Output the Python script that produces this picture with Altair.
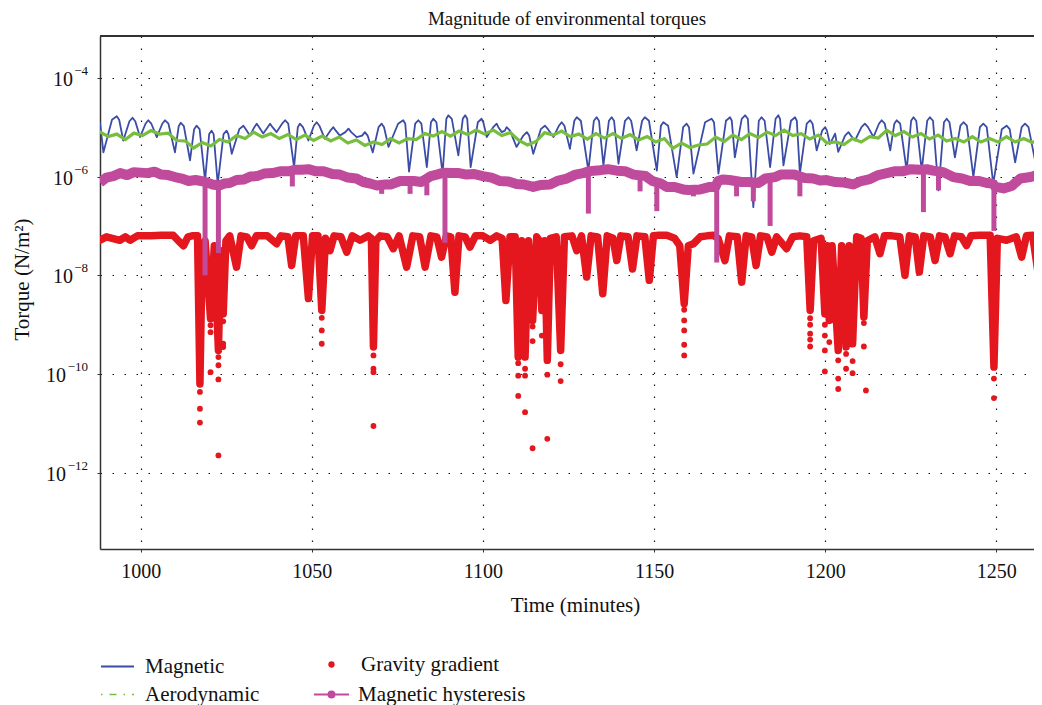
import altair as alt
import pandas as pd

# ---------------- data (log10 of torque) ----------------
series_names = ["Magnetic", "Aerodynamic", "Gravity gradient", "Magnetic hysteresis"]
x_ticks = [1000, 1050, 1100, 1150, 1200, 1250]
y_ticks = [1e-12, 1e-10, 1e-8, 1e-6, 1e-4]
y_tick_base = "10"
y_tick_exp = ["−12", "−10", "−8", "−6", "−4"]

# magnetic torque: troughs, arch shoulders and arch tops
mag_t = [988.1, 989.1, 991.6, 993.0, 993.7, 994.9, 996.7, 997.6, 998.4, 999.8,
         1001.4, 1002.2, 1003.1, 1004.7, 1006.3, 1007.1, 1008.1, 1010.0, 1011.1, 1011.7,
         1012.6, 1014.4, 1015.6, 1016.3, 1017.2, 1018.8, 1020.0, 1020.7, 1021.3, 1022.5,
         1024.2, 1025.1, 1025.6, 1026.6, 1028.8, 1030.0, 1030.7, 1031.9, 1033.2, 1033.9,
         1034.6, 1035.8, 1037.1, 1037.8, 1038.5, 1039.7, 1041.3, 1042.2, 1043.1, 1044.8,
         1045.9, 1046.5, 1047.4, 1049.0, 1050.6, 1051.4, 1052.2, 1053.8, 1055.4, 1056.3,
         1057.0, 1058.2, 1059.8, 1060.7, 1061.5, 1063.1, 1064.7, 1065.5, 1066.3, 1067.8,
         1069.5, 1070.4, 1071.1, 1072.4, 1075.2, 1076.7, 1077.3, 1078.4, 1080.2, 1081.1,
         1082.0, 1083.6, 1084.8, 1085.5, 1086.4, 1088.2, 1089.3, 1089.9, 1090.9, 1092.8,
         1094.1, 1094.8, 1095.4, 1096.4, 1098.5, 1099.6, 1100.1, 1101.1, 1103.0, 1104.0,
         1104.5, 1105.5, 1106.4, 1106.9, 1107.9, 1109.8, 1111.8, 1112.8, 1113.5, 1114.7,
         1116.9, 1118.1, 1119.0, 1120.6, 1122.2, 1123.0, 1123.8, 1125.4, 1126.7, 1127.4,
         1128.6, 1130.8, 1132.4, 1133.2, 1133.9, 1135.2, 1136.8, 1137.6, 1138.3, 1139.6,
         1141.5, 1142.5, 1143.3, 1144.9, 1146.5, 1147.3, 1148.5, 1150.8, 1152.0, 1152.7,
         1154.1, 1156.6, 1158.5, 1159.5, 1160.2, 1161.5, 1164.9, 1166.8, 1167.5, 1168.8,
         1171.0, 1172.2, 1172.7, 1173.6, 1175.6, 1176.6, 1177.4, 1179.0, 1180.6, 1181.4,
         1182.3, 1183.9, 1185.5, 1186.3, 1186.8, 1187.8, 1190.0, 1191.2, 1191.7, 1192.6,
         1194.6, 1195.6, 1196.3, 1197.5, 1199.1, 1200.0, 1200.5, 1201.4, 1202.9, 1203.8,
         1205.8, 1206.8, 1207.5, 1208.7, 1210.6, 1211.6, 1212.5, 1214.1, 1215.7, 1216.5,
         1217.4, 1219.0, 1220.2, 1220.9, 1221.9, 1223.8, 1225.1, 1225.8, 1226.6, 1228.2,
         1229.8, 1230.6, 1231.5, 1233.1, 1234.7, 1235.5, 1236.3, 1237.9, 1239.5, 1240.4,
         1241.4, 1243.3, 1245.2, 1246.2, 1247.2, 1249.1, 1251.6, 1253.0, 1253.9, 1255.5,
         1257.4, 1258.4, 1259.4, 1261.3, 1262.8]
mag_log = [-4.90, -5.51, -4.85, -4.78, -4.85, -5.27, -4.88, -4.81, -4.88, -5.20,
           -4.93, -4.86, -4.93, -5.20, -4.93, -4.86, -4.93, -5.51, -4.98, -4.91,
           -4.98, -5.67, -5.04, -4.97, -5.04, -6.08, -5.14, -5.07, -5.14, -6.15,
           -5.14, -5.07, -5.14, -5.54, -5.04, -4.97, -5.04, -5.17, -5.00, -4.93,
           -5.00, -5.13, -5.00, -4.93, -5.00, -5.10, -4.93, -4.86, -4.93, -5.81,
           -5.00, -4.93, -5.00, -5.27, -4.97, -4.90, -4.97, -5.235, -5.07, -5.00,
           -5.07, -5.17, -5.10, -5.03, -5.10, -5.20, -5.17, -5.10, -5.17, -5.51,
           -5.00, -4.93, -5.00, -5.40, -4.93, -4.86, -4.93, -5.90, -4.93, -4.86,
           -4.93, -5.81, -4.90, -4.83, -4.90, -5.94, -4.83, -4.76, -4.83, -5.57,
           -4.83, -4.76, -4.83, -5.81, -4.90, -4.83, -4.90, -5.20, -5.00, -4.93,
           -5.00, -5.10, -5.07, -5.00, -5.07, -5.40, -5.17, -5.10, -5.17, -5.54,
           -5.04, -4.97, -5.04, -5.20, -4.97, -4.90, -4.97, -5.44, -4.87, -4.80,
           -4.87, -5.88, -4.87, -4.80, -4.87, -5.775, -4.87, -4.80, -4.87, -5.74,
           -4.87, -4.80, -4.87, -5.47, -4.87, -4.80, -4.87, -5.88, -4.97, -4.90,
           -4.97, -6.01, -5.00, -4.93, -5.00, -5.94, -4.90, -4.83, -4.90, -5.94,
           -4.87, -4.80, -4.87, -5.61, -4.83, -4.76, -4.83, -6.62, -4.87, -4.80,
           -4.87, -5.81, -4.83, -4.76, -4.83, -5.775, -4.87, -4.80, -4.87, -5.94,
           -4.93, -4.86, -4.93, -5.47, -5.07, -5.00, -5.07, -5.34, -5.13, -5.50,
           -5.17, -5.10, -5.17, -5.27, -5.00, -4.93, -5.00, -5.20, -4.93, -4.86,
           -4.93, -5.47, -4.93, -4.86, -4.93, -5.88, -4.87, -4.80, -4.87, -5.88,
           -4.87, -4.80, -4.87, -6.28, -4.90, -4.83, -4.90, -5.61, -4.97, -4.90,
           -4.97, -6.01, -5.00, -4.93, -5.00, -6.15, -5.04, -4.97, -5.04, -5.71,
           -5.00, -4.93, -5.00, -5.67, -4.86]

aero_start, aero_step = 988.0, 2.5
aero_log = [-5.09, -5.19, -5.14, -5.25, -5.12, -5.17, -5.07, -5.14, -5.12, -5.27,
            -5.28, -5.42, -5.31, -5.38, -5.25, -5.30, -5.17, -5.23, -5.10, -5.20,
            -5.13, -5.23, -5.15, -5.25, -5.16, -5.27, -5.18, -5.28, -5.20, -5.32,
            -5.26, -5.37, -5.30, -5.35, -5.23, -5.32, -5.23, -5.25, -5.13, -5.18,
            -5.09, -5.18, -5.08, -5.15, -5.06, -5.14, -5.06, -5.17, -5.11, -5.27,
            -5.36, -5.29, -5.11, -5.16, -5.08, -5.19, -5.14, -5.24, -5.13, -5.22,
            -5.13, -5.23, -5.15, -5.26, -5.19, -5.30, -5.23, -5.43, -5.32, -5.41,
            -5.36, -5.34, -5.20, -5.29, -5.16, -5.25, -5.13, -5.21, -5.10, -5.17,
            -5.06, -5.17, -5.13, -5.24, -5.16, -5.32, -5.30, -5.35, -5.23, -5.30,
            -5.19, -5.22, -5.06, -5.17, -5.09, -5.20, -5.13, -5.24, -5.16, -5.28,
            -5.23, -5.30, -5.19, -5.30, -5.23, -5.30, -5.19, -5.30, -5.23, -5.31,
            -5.23]

grav_t = [988.1, 990.0, 993.9, 995.5, 996.9, 999.0, 1003.0, 1006.0, 1009.5, 1011.0,
          1012.5, 1013.8, 1015.0, 1016.6, 1017.3, 1018.0, 1018.8, 1020.4, 1021.5, 1022.7,
          1023.4, 1024.1, 1024.9, 1026.0, 1028.0, 1029.3, 1031.0, 1032.4, 1033.8, 1037.0,
          1039.7, 1041.0, 1043.0, 1044.1, 1045.3, 1047.5, 1049.0, 1050.2, 1051.8, 1052.9,
          1054.0, 1055.3, 1056.5, 1058.5, 1060.2, 1061.8, 1064.1, 1066.5, 1067.4, 1068.0,
          1068.7, 1070.0, 1072.0, 1073.8, 1075.5, 1077.7, 1079.5, 1081.5, 1083.1, 1084.8,
          1086.5, 1087.9, 1089.3, 1090.6, 1091.8, 1093.0, 1094.8, 1096.2, 1097.8, 1100.0,
          1102.1, 1104.0, 1105.6, 1106.7, 1107.9, 1109.4, 1110.3, 1111.3, 1112.3, 1113.3,
          1114.5, 1115.7, 1116.5, 1117.2, 1118.0, 1118.8, 1119.7, 1121.4, 1122.7, 1123.8,
          1126.0, 1127.4, 1128.8, 1130.3, 1131.6, 1133.5, 1135.0, 1136.3, 1138.0, 1139.1,
          1140.3, 1142.4, 1143.7, 1145.0, 1147.3, 1148.6, 1149.8, 1151.5, 1153.7, 1156.0,
          1157.5, 1158.8, 1160.0, 1161.5, 1163.5, 1165.5, 1167.3, 1168.7, 1170.7, 1172.0,
          1174.3, 1175.6, 1176.9, 1178.5, 1179.8, 1181.1, 1183.0, 1184.4, 1185.8, 1188.7,
          1190.5, 1192.6, 1194.6, 1195.6, 1196.6, 1198.8, 1199.9, 1200.6, 1201.2, 1202.0,
          1203.8, 1204.8, 1206.1, 1207.0, 1208.0, 1209.2, 1210.5, 1211.3, 1212.3, 1214.5,
          1216.0, 1217.3, 1219.5, 1221.8, 1223.3, 1224.6, 1226.3, 1227.5, 1228.8, 1230.7,
          1232.1, 1233.4, 1235.0, 1236.5, 1237.8, 1239.8, 1241.3, 1242.6, 1245.0, 1248.2,
          1249.3, 1250.3, 1253.0, 1255.8, 1257.4, 1258.8, 1260.6, 1262.3, 1263.4]
grav_log = [-7.29, -7.22, -7.29, -7.22, -7.29, -7.20, -7.20, -7.19, -7.19, -7.30,
            -7.40, -7.22, -7.20, -7.20, -10.20, -7.40, -7.30, -8.88, -7.40, -9.52,
            -7.50, -8.78, -7.30, -7.20, -7.833, -7.20, -7.22, -7.40, -7.20, -7.20,
            -7.36, -7.20, -7.22, -7.80, -7.20, -7.20, -8.47, -7.20, -7.20, -8.71,
            -7.25, -7.50, -7.20, -7.22, -7.53, -7.20, -7.29, -7.20, -7.25, -9.45,
            -7.30, -7.20, -7.22, -7.46, -7.20, -7.833, -7.20, -7.22, -7.833, -7.20,
            -7.22, -7.63, -7.20, -7.22, -8.34, -7.20, -7.22, -7.43, -7.20, -7.20,
            -7.29, -7.20, -7.25, -8.51, -7.22, -7.22, -9.655, -7.30, -9.655, -7.30,
            -8.913, -7.22, -7.30, -8.71, -7.30, -9.72, -7.25, -7.22, -9.52, -7.22,
            -7.20, -7.50, -7.20, -8.035, -7.20, -7.22, -8.373, -7.20, -7.25, -7.70,
            -7.20, -7.22, -7.87, -7.20, -7.22, -8.10, -7.20, -7.19, -7.19, -7.25,
            -7.40, -8.575, -7.40, -7.36, -7.22, -7.20, -7.19, -7.25, -7.70, -7.20,
            -7.22, -8.137, -7.20, -7.22, -7.80, -7.20, -7.22, -7.53, -7.22, -7.46,
            -7.22, -7.20, -7.22, -8.71, -7.30, -7.25, -8.78, -7.40, -8.913, -7.40,
            -9.52, -7.40, -9.45, -7.40, -9.385, -7.22, -7.25, -8.845, -7.30, -7.22,
            -7.563, -7.20, -7.20, -7.22, -8.00, -7.20, -7.22, -7.934, -7.20, -7.22,
            -7.70, -7.20, -7.22, -7.563, -7.20, -7.22, -7.395, -7.20, -7.19, -7.19,
            -9.857, -7.25, -7.29, -7.22, -7.63, -7.20, -7.19, -8.00, -7.60]

grav_pts_t = [1017.3, 1017.3, 1017.3, 1020.4, 1020.4, 1020.4, 1022.7, 1022.7, 1022.7, 1022.7,
              1024.1, 1024.1, 1024.1, 1052.9, 1052.9, 1052.9, 1068.0, 1068.0, 1068.0, 1068.0,
              1110.3, 1110.3, 1110.3, 1112.3, 1112.3, 1112.3, 1114.5, 1114.5, 1114.5, 1117.2,
              1118.8, 1118.8, 1122.7, 1122.7, 1158.8, 1158.8, 1158.8, 1158.8, 1158.8, 1195.6,
              1195.6, 1195.6, 1195.6, 1195.6, 1199.9, 1199.9, 1199.9, 1199.9, 1201.2, 1203.8,
              1203.8, 1203.8, 1206.1, 1206.1, 1208.0, 1208.0, 1211.3, 1211.3, 1211.9, 1249.3,
              1249.3]
grav_pts_log = [-10.36, -10.70, -10.98, -9.01, -9.15, -9.96, -9.655, -9.82, -10.107, -11.645,
                -8.93, -9.385, -9.45, -8.86, -9.115, -9.385, -9.62, -9.89, -9.96, -11.05,
                -9.777, -10.03, -10.44, -9.89, -10.03, -10.77, -9.035, -9.33, -11.50, -9.22,
                -10.01, -11.31, -9.80, -10.14, -8.697, -8.913, -9.115, -9.405, -9.62, -8.866,
                -9.00, -9.18, -9.30, -9.44, -9.00, -9.22, -9.52, -9.945, -9.35, -9.72,
                -10.09, -10.30, -9.59, -9.89, -9.736, -9.98, -8.967, -9.44, -10.33, -10.09,
                -10.485]

hyst_t = [988.1, 990.0, 992.0, 994.0, 996.0, 998.0, 1000.0, 1002.0, 1004.0, 1006.0,
          1008.0, 1010.0, 1012.0, 1014.0, 1016.0, 1018.4, 1021.0, 1023.1, 1024.5, 1026.0,
          1028.0, 1030.0, 1032.0, 1034.0, 1036.0, 1038.5, 1041.0, 1043.6, 1045.0, 1047.0,
          1049.0, 1051.0, 1053.4, 1056.0, 1058.2, 1060.5, 1063.0, 1065.0, 1067.0, 1069.0,
          1071.5, 1073.0, 1075.8, 1077.5, 1079.8, 1082.0, 1084.8, 1086.5, 1088.5, 1091.0,
          1093.0, 1095.2, 1097.5, 1100.0, 1102.5, 1105.0, 1107.5, 1109.8, 1112.0, 1114.7,
          1117.0, 1119.6, 1122.0, 1124.5, 1127.0, 1129.3, 1131.2, 1134.2, 1136.5, 1139.1,
          1141.5, 1144.0, 1147.5, 1149.5, 1152.0, 1153.7, 1156.0, 1158.5, 1160.0, 1163.5,
          1166.3, 1167.9, 1168.7, 1170.0, 1172.0, 1175.5, 1177.5, 1180.5, 1182.5, 1185.3,
          1187.0, 1188.7, 1191.0, 1194.0, 1196.5, 1198.5, 1200.4, 1203.0, 1205.5, 1208.2,
          1210.5, 1213.1, 1215.5, 1218.0, 1220.5, 1222.8, 1225.0, 1227.7, 1229.7, 1231.5,
          1234.5, 1237.4, 1240.0, 1242.3, 1245.0, 1247.2, 1248.8, 1249.8, 1252.1, 1254.5,
          1257.0, 1260.0, 1262.8]
hyst_log = [-6.12, -6.02, -5.99, -5.93, -5.97, -5.91, -5.92, -5.93, -5.90, -5.96,
            -5.97, -6.01, -6.04, -6.09, -6.07, -6.10, -6.16, -6.18, -6.14, -6.13,
            -6.07, -6.06, -6.00, -5.99, -5.94, -5.93, -5.89, -5.89, -5.86, -5.86,
            -5.85, -5.89, -5.89, -5.95, -5.96, -6.02, -6.04, -6.11, -6.14, -6.18,
            -6.16, -6.16, -6.09, -6.09, -6.09, -6.11, -5.99, -5.96, -5.92, -5.93,
            -5.93, -5.96, -5.95, -5.99, -6.02, -6.09, -6.10, -6.15, -6.16, -6.21,
            -6.17, -6.16, -6.08, -6.04, -5.96, -5.93, -5.89, -5.87, -5.85, -5.88,
            -5.89, -5.96, -5.99, -6.09, -6.14, -6.21, -6.21, -6.26, -6.27, -6.26,
            -6.21, -6.21, -6.09, -6.06, -6.07, -6.11, -6.11, -6.13, -6.04, -6.01,
            -5.96, -5.96, -5.96, -6.03, -6.04, -6.08, -6.07, -6.11, -6.12, -6.16,
            -6.09, -6.05, -5.97, -5.93, -5.89, -5.89, -5.85, -5.86, -5.85, -5.88,
            -5.91, -6.01, -6.04, -6.09, -6.09, -6.13, -6.14, -6.21, -6.24, -6.19,
            -6.04, -6.01, -5.95]

hyst_spike_t = [1018.8, 1022.7, 1044.3, 1070.4, 1078.7, 1083.6, 1088.9, 1130.8, 1145.9, 1150.8,
                1161.5, 1168.3, 1174.1, 1179.0, 1183.9, 1192.6, 1228.7, 1233.1, 1249.3]
hyst_spike_top = [-6.10, -6.16, -5.88, -6.17, -6.08, -6.10, -5.93, -5.92, -5.97, -6.10,
                  -6.28, -6.20, -6.08, -6.12, -6.03, -5.98, -5.86, -5.90, -6.15]
hyst_spike_bottom = [-8.00, -7.55, -6.20, -6.35, -6.35, -6.38, -7.34, -6.75, -6.30, -6.70,
                     -6.40, -7.74, -6.40, -6.50, -7.00, -6.40, -6.72, -6.28, -7.10]

# ---------------- tables ----------------
def tbl(t, lg, name):
    return pd.DataFrame({"t": t, "v": [10 ** x for x in lg], "series": name})

mag_df = tbl(mag_t, mag_log, series_names[0])
aero_df = tbl([aero_start + aero_step * i for i in range(len(aero_log))], aero_log, series_names[1])
grav_df = tbl(grav_t, grav_log, series_names[2])
grav_pts_df = tbl(grav_t + grav_pts_t, grav_log + grav_pts_log, series_names[2])
hyst_df = tbl(hyst_t, hyst_log, series_names[3])
spike_df = pd.DataFrame({"t": hyst_spike_t,
                         "top": [10 ** x for x in hyst_spike_top],
                         "bottom": [10 ** x for x in hyst_spike_bottom]})
ylab_df = pd.DataFrame({"v": y_ticks, "base": y_tick_base, "exp": y_tick_exp})
ylab_short = ylab_df[ylab_df["exp"].str.len() == 2]
ylab_long = ylab_df[ylab_df["exp"].str.len() == 3]

# ---------------- styling ----------------
FONT = "Liberation Serif"
BLUE, GREEN, RED, MAGENTA = "#3b4ca6", "#78be3e", "#e4171f", "#c04b9c"
INK = "#111111"
W, H = 934, 513
X0, PXPM = 988.1, 3.4224
xs = alt.Scale(domain=[X0, X0 + W / PXPM], nice=False, zero=False)
ys = alt.Scale(type="log", domain=[10 ** -13.54, 10 ** -3.154], nice=False)

grid = dict(grid=True, gridColor="#000000", gridDash=[1.5, 10.5], gridWidth=1.2, gridOpacity=0.9,
            domainColor="#333333", domainWidth=1.5, tickColor="#333333", tickSize=3,
            labelFont=FONT, labelFontSize=20, labelColor=INK,
            titleFont=FONT, titleFontSize=21, titleFontWeight="normal", titleColor=INK)
x_axis = alt.Axis(values=x_ticks, format="d", title="Time (minutes)", labelPadding=9,
                  titleX=475, titleY=56, titleBaseline="middle", **grid)
y_axis = alt.Axis(values=y_ticks, labels=False, title="Torque (N/m²)",
                  titleX=-78, titleY=243, titleAngle=-90, titleBaseline="middle", titleAlign="center", **grid)

X = alt.X("t:Q", scale=xs, axis=x_axis)
Y = alt.Y("v:Q", scale=ys, axis=y_axis)

def legend(x, y, offset, **kw):
    return alt.Legend(orient="none", legendX=x, legendY=y, title=None, padding=0,
                      labelFont=FONT, labelFontSize=21, labelColor=INK, labelOffset=offset,
                      labelLimit=400, **kw)

mag_layer = alt.Chart(mag_df).mark_line(strokeWidth=1.8, strokeJoin="round", clip=True).encode(
    x=X, y=Y,
    color=alt.Color("series:N", scale=alt.Scale(domain=[series_names[0]], range=[BLUE]),
                    legend=legend(0, 613, 10, symbolType="stroke", symbolSize=1089,
                                  symbolStrokeWidth=2)))

aero_layer = alt.Chart(aero_df).mark_line(strokeWidth=3.2, clip=True).encode(
    x=X, y=Y,
    color=alt.Color("series:N", scale=alt.Scale(domain=[series_names[1]], range=[GREEN]),
                    legend=legend(0, 641, 10, symbolType="stroke", symbolSize=1089,
                                  symbolStrokeWidth=1.5, symbolDash=[1.5, 7, 7, 7])))

grav_line = alt.Chart(grav_df).mark_line(strokeWidth=7.5, strokeJoin="round", strokeCap="round",
                                          color=RED, clip=True).encode(x=X, y=Y)

grav_layer = alt.Chart(grav_pts_df).mark_circle(size=34, opacity=1, clip=True).encode(
    x=X, y=Y,
    color=alt.Color("series:N", scale=alt.Scale(domain=[series_names[2]], range=[RED]),
                    legend=legend(221, 618, 19, symbolType="circle", symbolSize=40)))

hyst_layer = alt.Chart(hyst_df).mark_line(strokeWidth=10, strokeJoin="round", clip=True).encode(
    x=X, y=Y,
    color=alt.Color("series:N", scale=alt.Scale(domain=[series_names[3]], range=[MAGENTA]),
                    legend=legend(213, 640, 8,
                                  symbolType="M-1,0L1,0M-0.17,0A0.17,0.17,0,1,1,0.17,0A0.17,0.17,0,1,1,-0.17,0Z",
                                  symbolSize=1225, symbolStrokeWidth=2, symbolFillColor=MAGENTA)))

spike_layer = alt.Chart(spike_df).mark_rule(strokeWidth=5, color=MAGENTA, clip=True).encode(
    x=X, y=alt.Y("top:Q", scale=ys, axis=y_axis), y2="bottom:Q")

top_border = alt.Chart(spike_df).mark_rule(color="#333333", strokeWidth=1.5).encode(
    x=alt.value(0), x2=alt.value(W), y=alt.value(0))

# y tick labels: "10" with a raised exponent
def base_text(df, xpos):
    return alt.Chart(df).mark_text(align="right", baseline="middle", dy=2, font=FONT,
                                   fontSize=20, color=INK).encode(
        x=alt.value(xpos), y=alt.Y("v:Q", scale=ys, axis=y_axis), text="base:N")

def exp_text(df):
    return alt.Chart(df).mark_text(align="right", baseline="middle", dy=-7, font=FONT,
                                   fontSize=13, color=INK).encode(
        x=alt.value(-12), y=alt.Y("v:Q", scale=ys, axis=y_axis), text="exp:N")

labels = [base_text(ylab_short, -27), base_text(ylab_long, -34), exp_text(ylab_df)]

chart = alt.layer(mag_layer, aero_layer, grav_line, grav_layer, hyst_layer, spike_layer, top_border,
                  *labels).resolve_scale(
    color="independent"
).properties(
    width=W, height=H,
    title=alt.TitleParams("Magnitude of environmental torques", font=FONT, fontSize=19,
                          fontWeight="normal", color=INK, offset=6),
    autosize=alt.AutoSizeParams(type="none"),
    padding={"left": 92, "top": 28, "right": 0, "bottom": 156},
).configure_view(stroke="transparent").configure(background="white")

chart.save("out.html", embed_options={"renderer": "svg", "actions": False})
